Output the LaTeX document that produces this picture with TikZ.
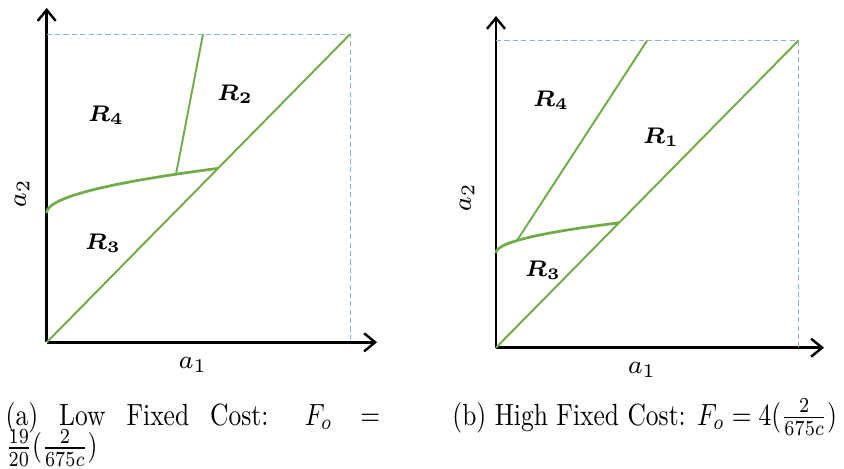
\documentclass[tikz,border=0pt]{standalone}
\usepackage{amsmath, amssymb, bm}
\usepackage{graphicx}
\usetikzlibrary{calc, positioning, arrows.meta}
\definecolor{verde}{RGB}{112,173,71}
\definecolor{tratteggio}{RGB}{140,180,215}

\begin{document}
\begin{tikzpicture}[x=0.31pt, y=0.31pt,
    asse/.style={line width=0.75pt, -{Straight Barb[length=3.4pt, width=5.6pt]}},
    bordo/.style={tratteggio, line width=0.3pt, dash pattern=on 1.6pt off 1pt},
    retta/.style={verde, line width=0.6pt},
    curva/.style={verde, line width=0.85pt},
    regione/.style={font=\fontsize{7.2}{8}\selectfont},
    etichetta/.style={font=\fontsize{8.2}{9}\selectfont},
    didascalia/.style={inner sep=0pt, anchor=base west}]
    \useasboundingbox (0,0) rectangle (844,468);
    %punti grafico (a)
    \coordinate (oA) at (46.7,125.7);
    \coordinate (yA) at (46.7,460);
    \coordinate (xA) at (377,125.7);
    \coordinate (cA) at (350,433.7);
    \coordinate (sA) at (46.7,255);
    \coordinate (vA) at (218.05,299.6);
    \coordinate (bA) at (176,293.8);
    \coordinate (tA) at (203,433.7);
    %disegno assi (a)
    \draw[asse] (oA) -- (yA);
    \draw[asse] (oA) -- (xA);
    \draw[bordo] (oA |- cA) -- (cA) -- (oA -| cA);
    %disegno regioni (a)
    \draw[retta] (oA) -- (cA);
    \draw[curva] plot[domain=0:13.09, samples=40, smooth, variable=\t] ({46.7+\t*\t},{255+3.41*\t});
    \draw[retta] (bA) -- (tA);
    %label (a)
    \node[regione] (r4A) at (106,353) {$\bm{R_4}$};
    \node[regione] (r2A) at (235,374) {$\bm{R_2}$};
    \node[regione] (r3A) at (103,225) {$\bm{R_3}$};
    \node[etichetta, rotate=90] (a2A) at (22,275) {$a_2$};
    \node[etichetta] (a1A) at (193,103) {$a_1$};

    %punti grafico (b)
    \coordinate (oB) at (496,120.3);
    \coordinate (yB) at (496,452);
    \coordinate (xB) at (824,120.3);
    \coordinate (cB) at (798.3,427.3);
    \coordinate (sB) at (496,215);
    \coordinate (vB) at (619,245.2);
    \coordinate (bB) at (517,227.5);
    \coordinate (tB) at (647,427.3);
    %disegno assi (b)
    \draw[asse] (oB) -- (yB);
    \draw[asse] (oB) -- (xB);
    \draw[bordo] (oB |- cB) -- (cB) -- (oB -| cB);
    %disegno regioni (b)
    \draw[retta] (oB) -- (cB);
    \draw[curva] plot[domain=0:11.09, samples=40, smooth, variable=\t] ({496+\t*\t},{215+2.72*\t});
    \draw[retta] (bB) -- (tB);
    %label (b)
    \node[regione] (r4B) at (551,368) {$\bm{R_4}$};
    \node[regione] (r1B) at (661,331) {$\bm{R_1}$};
    \node[regione] (r3B) at (543,198) {$\bm{R_3}$};
    \node[etichetta, rotate=90] (a2B) at (467,271) {$a_2$};
    \node[etichetta] (a1B) at (642,98) {$a_1$};

    %didascalie
    \node[didascalia] (capA) at (5,43) {\scalebox{0.79}[0.95]{\parbox[t]{147pt}{\baselineskip=10pt\lineskiplimit=-20pt (a) Low Fixed Cost: $F_o =$\linebreak $\frac{19}{20}(\frac{2}{675c})$}}};
    \node[didascalia] (capB) at (451.7,43) {\scalebox{0.79}[0.95]{(b) High Fixed Cost: $F_o = 4(\frac{2}{675c})$}};
\end{tikzpicture}
\end{document}
